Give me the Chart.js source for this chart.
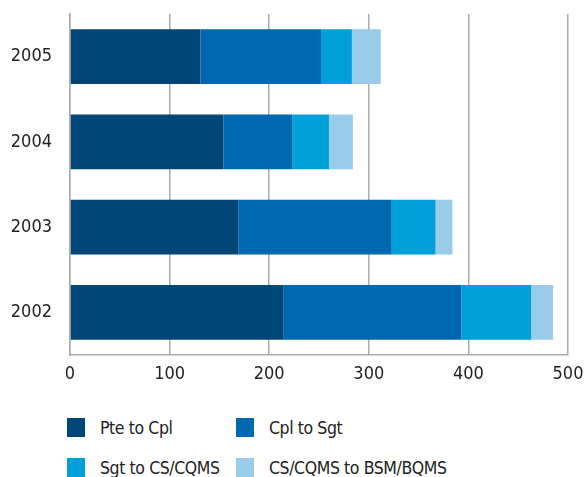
<!DOCTYPE html>
<html>
<head>
<meta charset="utf-8">
<script src="https://cdn.jsdelivr.net/npm/chart.js@4.4.0/dist/chart.umd.min.js"></script>
<style>
  html, body { margin: 0; padding: 0; background: #fff; }
  #wrap { position: relative; width: 585px; height: 477px; overflow: hidden; }
  #chart { position: absolute; left: 0; top: 0; }
  .legend-item { position: absolute; height: 20px; font-family: "DejaVu Sans Condensed", "DejaVu Sans", sans-serif; font-size: 17.5px; letter-spacing: -0.4px; color: #222; line-height: 20px; white-space: nowrap; }
  .legend-box { position: absolute; left: 0; top: 0; width: 18px; height: 19px; }
  .legend-text { position: absolute; left: 33px; top: 0; }
</style>
</head>
<body>
<div id="wrap">
  <canvas id="chart" width="585" height="395"></canvas>
</div>
<script>
// Categories (top to bottom) and series values
const years = ['2005', '2004', '2003', '2002'];
const pteToCpl = [131, 154, 169, 214];
const cplToSgt = [121, 69, 154, 179];
const sgtToCs = [31, 37, 44, 70];
const csToBsm = [29, 24, 17, 22];
const xTicks = [0, 100, 200, 300, 400, 500];

const seriesNames = ['Pte to Cpl', 'Cpl to Sgt', 'Sgt to CS/CQMS', 'CS/CQMS to BSM/BQMS'];
const seriesColors = ['#004677', '#0067b1', '#00a1da', '#99cbea'];
const seriesData = [pteToCpl, cplToSgt, sgtToCs, csToBsm];

const fontFamily = '"DejaVu Sans Condensed", "DejaVu Sans", sans-serif';

const ctx = document.getElementById('chart').getContext('2d');
const chart = new Chart(ctx, {
    type: 'bar',
    data: {
        labels: years,
        datasets: seriesNames.map((name, i) => ({
            label: name,
            data: seriesData[i],
            backgroundColor: seriesColors[i],
            borderWidth: 0,
            barPercentage: 0.645,
            categoryPercentage: 1
        }))
    },
    options: {
        indexAxis: 'y',
        responsive: false,
        animation: false,
        layout: {
            padding: { top: 14, right: 0, left: 0, bottom: 0 }
        },
        scales: {
            x: {
                stacked: true,
                min: 0,
                max: 500,
                afterBuildTicks: (scale) => {
                    scale.ticks = xTicks.map(v => ({ value: v }));
                },
                afterFit: (scale) => {
                    scale.height = 40;
                    scale.paddingLeft = 0;
                    scale.paddingRight = 17;
                },
                ticks: {
                    color: '#222',
                    padding: 9,
                    font: { family: fontFamily, size: 18 }
                },
                grid: {
                    color: '#ababab',
                    lineWidth: 1.5,
                    drawTicks: false
                },
                border: { color: '#ababab', width: 1.5 }
            },
            y: {
                stacked: true,
                afterFit: (scale) => {
                    scale.width = 70;
                    scale.paddingTop = 0;
                    scale.paddingBottom = 0;
                },
                ticks: {
                    color: '#222',
                    padding: 18,
                    font: { family: fontFamily, size: 18 }
                },
                grid: { display: false, drawTicks: false },
                border: { color: '#ababab', width: 1.5 }
            }
        },
        plugins: {
            legend: { display: false },
            tooltip: { enabled: false }
        }
    }
});

// HTML legend in a 2x2 grid
const wrap = document.getElementById('wrap');
const legendPos = [[67, 418], [236, 418], [67, 458], [236, 458]];
seriesNames.forEach((name, i) => {
    const item = document.createElement('div');
    item.className = 'legend-item';
    item.style.left = legendPos[i][0] + 'px';
    item.style.top = legendPos[i][1] + 'px';
    const box = document.createElement('span');
    box.className = 'legend-box';
    box.style.background = seriesColors[i];
    const text = document.createElement('span');
    text.className = 'legend-text';
    text.textContent = name;
    item.appendChild(box);
    item.appendChild(text);
    wrap.appendChild(item);
});
</script>
</body>
</html>
